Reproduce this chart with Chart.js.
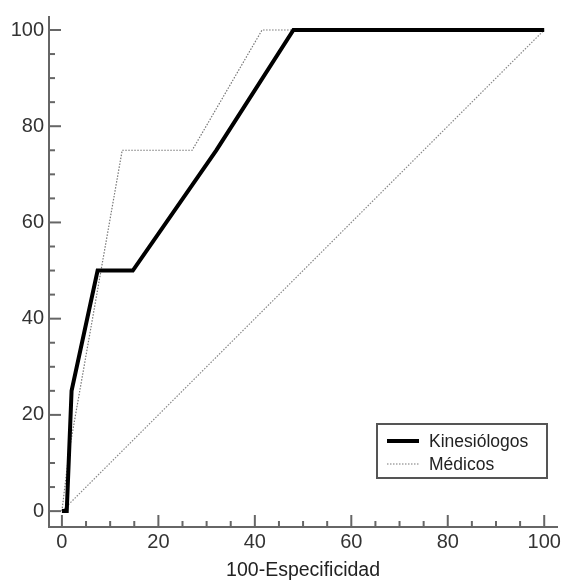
<!DOCTYPE html>
<html>
<head>
<meta charset="utf-8">
<script src="https://cdn.jsdelivr.net/npm/chart.js@4"></script>
<style>
  body { margin: 0; background: #fff; }
</style>
</head>
<body>
<canvas id="roc" width="564" height="581"></canvas>
<script>
// Curvas ROC
const kineX = [0, 1, 2, 7.4, 14.7, 32, 48, 100];
const kineY = [0, 0, 25, 50, 50, 75, 100, 100];
const mediX = [0, 1.5, 12.5, 27, 41.5, 100];
const mediY = [0, 12.5, 75, 75, 100, 100];
const refX = [0, 100];
const refY = [0, 100];

const majorTicks = [0, 20, 40, 60, 80, 100];
const minorTicks = [5, 10, 15, 25, 30, 35, 45, 50, 55, 65, 70, 75, 85, 90, 95];

const toPoints = (xs, ys) => xs.map((x, i) => ({ x: x, y: ys[i] }));

const axisColor = "#666";
const labelFont = { family: "Liberation Sans, Arial, sans-serif", size: 20 };

// marcas de los ejes hacia adentro
const tickMarks = {
  id: "tickMarks",
  afterDraw(chart) {
    const ctx = chart.ctx;
    const xs = chart.scales.x;
    const ys = chart.scales.y;
    const area = chart.chartArea;
    ctx.save();
    ctx.strokeStyle = axisColor;
    ctx.lineWidth = 2;
    const draw = (v, len) => {
      const px = xs.getPixelForValue(v);
      ctx.beginPath();
      ctx.moveTo(px, area.bottom);
      ctx.lineTo(px, area.bottom - len);
      ctx.stroke();
      const py = ys.getPixelForValue(v);
      ctx.beginPath();
      ctx.moveTo(area.left, py);
      ctx.lineTo(area.left + len, py);
      ctx.stroke();
    };
    majorTicks.forEach((v) => draw(v, 12));
    minorTicks.forEach((v) => draw(v, 6));
    ctx.restore();
  },
};

// leyenda dentro del gráfico
const boxLegend = {
  id: "boxLegend",
  afterDraw(chart) {
    const ctx = chart.ctx;
    ctx.save();
    ctx.strokeStyle = "#555";
    ctx.lineWidth = 2;
    ctx.strokeRect(377, 424, 170, 54);

    const items = chart.data.datasets.filter((d) => d.label);
    items.forEach((d, i) => {
      const y = 441 + i * 23;
      ctx.strokeStyle = d.borderColor;
      ctx.lineWidth = d.borderWidth;
      ctx.setLineDash(d.borderDash || []);
      ctx.beginPath();
      ctx.moveTo(387, y);
      ctx.lineTo(419, y);
      ctx.stroke();
      ctx.setLineDash([]);
      ctx.fillStyle = "#222";
      ctx.font = "17.5px Liberation Sans, Arial, sans-serif";
      ctx.textBaseline = "alphabetic";
      ctx.fillText(d.label, 429, y + 6);
    });
    ctx.restore();
  },
};

const datasets = [
  {
    label: "Kinesiólogos",
    data: toPoints(kineX, kineY),
    showLine: true,
    borderColor: "#000",
    borderWidth: 4,
    pointRadius: 0,
    fill: false,
  },
  {
    label: "Médicos",
    data: toPoints(mediX, mediY),
    showLine: true,
    borderColor: "#777",
    borderWidth: 1.2,
    borderDash: [1.5, 1.5],
    pointRadius: 0,
    fill: false,
  },
  {
    label: "",
    data: toPoints(refX, refY),
    showLine: true,
    borderColor: "#888",
    borderWidth: 1.2,
    borderDash: [1.5, 1.5],
    pointRadius: 0,
    fill: false,
  },
];

const config = {
  type: "scatter",
  data: { datasets: datasets },
  options: {
    responsive: false,
    animation: false,
    layout: { padding: { top: 14, right: 4, left: 0, bottom: 0 } },
    plugins: {
      legend: { display: false },
      tooltip: { enabled: false },
    },
    scales: {
      x: {
        min: -2.68,
        max: 102.68,
        afterBuildTicks: (scale) => {
          scale.ticks = majorTicks.map((v) => ({ value: v }));
        },
        afterFit: (scale) => {
          scale.height = 54;
        },
        grid: { drawOnChartArea: false, drawTicks: false },
        border: { color: axisColor, width: 2 },
        ticks: { color: "#333", font: labelFont, padding: 3, maxRotation: 0 },
        title: {
          display: true,
          text: "100-Especificidad",
          color: "#222",
          font: { family: "Liberation Sans, Arial, sans-serif", size: 19.5, lineHeight: 1 },
          padding: { top: 0, bottom: 1 },
        },
      },
      y: {
        min: -3.3,
        max: 102.7,
        afterBuildTicks: (scale) => {
          scale.ticks = majorTicks.map((v) => ({ value: v }));
        },
        afterFit: (scale) => {
          scale.width = 49;
        },
        grid: { drawOnChartArea: false, drawTicks: false },
        border: { color: axisColor, width: 2 },
        ticks: { color: "#333", font: labelFont, padding: 5 },
      },
    },
  },
  plugins: [tickMarks, boxLegend],
};

const canvas = document.getElementById("roc");
const rocChart = new Chart(canvas, config);
</script>
</body>
</html>
